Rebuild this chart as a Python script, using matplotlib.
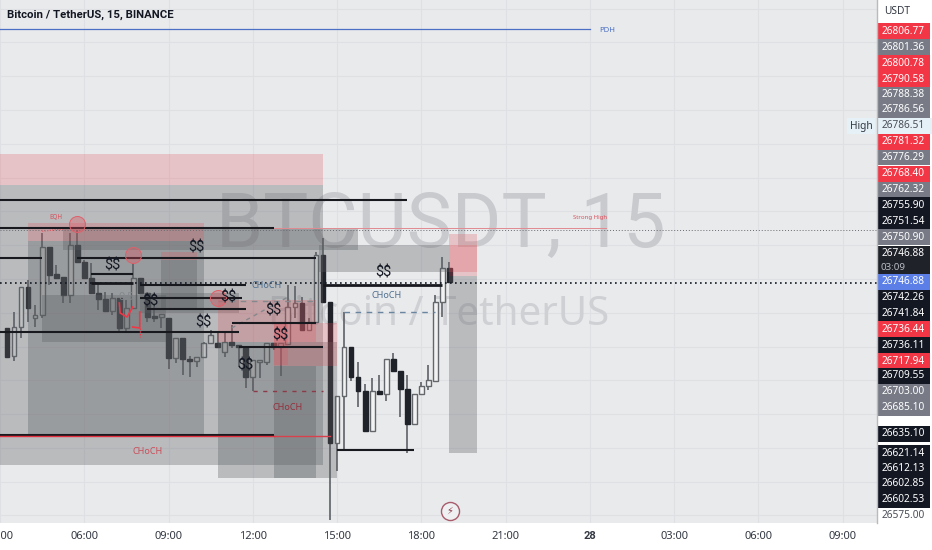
import matplotlib
matplotlib.use('Agg')
from matplotlib import pyplot as plt

plt.rcParams['font.family'] = ['Noto Sans', 'DejaVu Sans']

# 15 minute candles, bar 0 is the 15:00 candle
first_bar = -47
opens = [26713.7, 26693.0, 26714.4, 26744.0, 26721.1, 26723.3, 26773.6, 26753.7, 26751.4, 26738.1, 26775.1, 26762.5,
         26750.7, 26739.6, 26735.2, 26726.3, 26735.9, 26713.7, 26728.5, 26750.7, 26739.6, 26722.6, 26721.8, 26721.1,
         26691.5, 26706.3, 26690.8, 26689.3, 26692.2, 26702.6, 26702.6, 26695.9, 26703.3, 26701.1, 26699.6, 26677.4,
         26688.5, 26688.5, 26702.6, 26699.6, 26701.9, 26729.2, 26732.2, 26712.2, 26718.1, 26767.7, 26732.9, 26628.6,
         26663.4, 26699.6, 26677.4, 26667.1, 26637.5, 26667.1, 26664.9, 26690.8, 26681.9, 26668.6, 26642.7, 26664.9,
         26670.8, 26674.5, 26732.9, 26758.1]
highs = [26713.7, 26725.5, 26744.0, 26749.2, 26730.7, 26784.0, 26773.6, 26760.3, 26751.4, 26784.0, 26786.2, 26764.0,
         26761.8, 26747.7, 26740.3, 26739.6, 26735.9, 26734.4, 26761.8, 26750.7, 26739.6, 26729.2, 26724.1, 26721.1,
         26706.3, 26706.3, 26693.0, 26692.2, 26703.3, 26712.2, 26710.0, 26710.0, 26715.9, 26701.1, 26699.6, 26690.0,
         26690.0, 26702.6, 26702.6, 26702.6, 26745.5, 26744.8, 26736.6, 26721.1, 26769.9, 26780.3, 26732.9, 26663.4,
         26725.5, 26699.6, 26688.5, 26672.3, 26676.7, 26678.9, 26690.8, 26695.2, 26681.9, 26678.9, 26664.9, 26673.7,
         26686.3, 26738.1, 26766.2, 26762.5]
lows = [26692.2, 26689.3, 26706.3, 26718.1, 26714.4, 26721.1, 26745.5, 26750.7, 26732.2, 26732.2, 26762.5, 26750.7,
        26739.6, 26727.0, 26726.3, 26723.3, 26710.7, 26710.7, 26728.5, 26739.6, 26718.1, 26718.1, 26713.7, 26683.4,
        26687.8, 26678.9, 26677.4, 26684.8, 26692.2, 26702.6, 26699.6, 26692.2, 26698.9, 26684.8, 26669.3, 26667.1,
        26676.7, 26686.3, 26697.4, 26678.2, 26701.9, 26721.1, 26712.2, 26712.2, 26718.1, 26732.9, 26571.6, 26607.9,
        26623.4, 26674.5, 26655.2, 26637.5, 26637.5, 26664.9, 26659.7, 26681.9, 26647.8, 26621.2, 26642.7, 26664.9,
        26667.8, 26674.5, 26721.8, 26747.7]
closes = [26692.2, 26714.4, 26744.0, 26728.5, 26723.3, 26773.6, 26752.9, 26750.7, 26738.1, 26775.1, 26762.5, 26750.7,
          26739.6, 26735.2, 26726.3, 26735.9, 26713.7, 26728.5, 26750.7, 26739.6, 26721.8, 26721.1, 26724.1, 26691.5,
          26706.3, 26690.8, 26689.3, 26692.2, 26702.6, 26708.5, 26699.6, 26703.3, 26701.1, 26699.6, 26677.4, 26690.0,
          26690.0, 26702.6, 26699.6, 26702.6, 26729.2, 26732.2, 26712.2, 26718.1, 26767.7, 26732.9, 26628.6, 26663.4,
          26699.6, 26677.4, 26667.1, 26637.5, 26667.1, 26664.9, 26690.8, 26681.9, 26668.6, 26642.7, 26664.9, 26670.8,
          26675.2, 26732.9, 26758.1, 26747.7]

tick_bars = [-48, -36, -24, -12, 0, 12, 24, 36, 48, 60, 72]
tick_labels = ['03:00', '06:00', '09:00', '12:00', '15:00', '18:00', '21:00', '28', '03:00', '06:00', '09:00']

# drawing tools: (bar from, bar to, top price, bottom price)
grey_zones = [(-48, -2, 26819.5, 26612.3), (-44, -19, 26778.1, 26633.0), (-39, 3, 26787.7, 26771.4),
              (-42, -24.3, 26738.1, 26703.3), (-25, -20, 26764.0, 26727.0), (-28, -14, 26739.6, 26724.8),
              (-17, 0, 26703.3, 26602.7), (-9, -3, 26685.6, 26602.7), (-2.5, 16, 26775.1, 26755.1),
              (16, 20, 26752.2, 26621.2)]
pink_zones = [(-48, -2, 26842.5, 26819.5), (-44, -19, 26791.5, 26778.1), (-25, -20, 26769.9, 26764.0),
              (-17, -3, 26734.4, 26703.3), (-9, 0, 26717.4, 26685.6), (-9, -7, 26717.4, 26686.3),
              (16, 20, 26783.3, 26752.2), (16, 20, 26775.1, 26755.1)]
# (bar from, bar to, price, width)
black_lines = [(-48, 10, 26808.4, 1.5), (-48, -9, 26787.7, 1.5), (-48, -42, 26765.5, 1.5), (-37, -3, 26765.5, 1.5),
               (-35, -29, 26753.7, 1.5), (-35, -29, 26747.0, 2), (-28, -13, 26745.5, 1.5), (-28, -13.5, 26735.9, 1.5),
               (-27, -13, 26727.8, 1.5), (-48, -14, 26710.7, 1.5), (-15, -3, 26717.4, 1.5), (-14, -2, 26699.6, 1.5),
               (-48, -9, 26634.6, 1.5), (0, 11, 26623.4, 1.5), (-2, 15, 26745.8, 2)]
dollar_bars = [-20, -32, -26.6, -19, -15.5, -9, -8, -13, 6.6]
dollar_prices = [26773.6, 26759.6, 26733.0, 26718.1, 26735.9, 26726.3, 26708.5, 26686.3, 26755.1]
circle_bars = [-37, -29, -17]
circle_prices = [26790.7, 26767.7, 26735.9]
hand_bars = [-31, -30.9, -29.9, -29.1]
hand_prices = [26732.2, 26724.8, 26721.8, 26729.2]
hook_bars = [-28.1, -28.1, -29.1]
hook_prices = [26725.5, 26713.7, 26714.4]

last_price = 26746.88
high_price = 26786.51

# price scale, the labels are stacked by the chart so their rows are not the price
scale_labels = ['26806.77', '26801.36', '26800.78', '26790.58', '26788.38', '26786.56', '26786.51', '26781.32',
                '26776.29', '26768.40', '26762.32', '26755.90', '26751.54', '26750.90', '26746.88', '26746.88',
                '26742.26', '26741.84', '26736.44', '26736.11', '26717.94', '26709.55', '26703.00', '26685.10',
                '26635.10', '26621.14', '26612.13', '26602.85', '26602.53', '26575.00']
scale_rows = [31, 47, 63, 79, 94.5, 110, 126, 142, 157.5, 174, 190, 205, 221, 237, 253, 282, 298, 313, 329, 345, 361,
              376, 392, 408, 434, 453, 468.5, 484, 500, 515]
R, G, K, D, B = '#f23645', '#787b86', '#131722', '#20222a', '#5b7fe6'
scale_colors = [R, G, R, R, G, G, None, R, G, R, G, K, K, G, D, B, K, K, R, K, R, K, G, G, K, K, K, K, K, None]

fig = plt.figure(figsize=(9.32, 5.5), dpi=100, facecolor='white')
ax = fig.add_axes([0, 27 / 550, 877 / 932, 523 / 550], facecolor='#e9eaec')
ax.set_xlim(-48.0, 76.9)
ax.set_ylim(26569.4, 26956.4)

ax.set_xticks(tick_bars)
ax.set_xticklabels(tick_labels, fontsize=8, color='#333842')
ax.get_xticklabels()[7].set_fontweight('bold')
ax.get_xticklabels()[7].set_family(['Roboto'])
ax.set_yticks([26575 + 25 * i for i in range(16)])
ax.set_yticklabels([])
ax.tick_params(length=0, pad=6)
ax.grid(color='#dfe0e3', lw=0.8)
ax.set_axisbelow(True)
for s in ax.spines.values():
    s.set_visible(False)

# watermark
ax.text(0.503, 0.567, 'BTCUSDT, 15', transform=ax.transAxes, fontsize=54.5, color='#c9cacd', ha='center', va='center',
        zorder=1, family=['Roboto'])
ax.text(0.5, 0.397, 'Bitcoin / TetherUS', transform=ax.transAxes, fontsize=29, color='#cfd0d3', ha='center', va='center', zorder=1)

for i in range(len(opens)):
    bar = first_bar + i
    up = closes[i] >= opens[i]
    ax.vlines(bar, lows[i], highs[i], color='#5d6066', lw=1.2, zorder=2)
    ax.bar(bar, abs(closes[i] - opens[i]), bottom=min(opens[i], closes[i]), width=0.68,
           facecolor='#f2f2f3' if up else '#20222a', edgecolor='#63666b' if up else '#20222a', lw=1, zorder=2.1)

for x0, x1, top, bottom in grey_zones:
    ax.fill_between([x0, x1], bottom, top, fc='#5a5d60', alpha=0.33, ec='none', zorder=3)
for x0, x1, top, bottom in pink_zones:
    ax.fill_between([x0, x1], bottom, top, fc='#e1505a', alpha=0.25, ec='none', zorder=3.1)

# thin level lines
ax.plot([-48, 36], [26935, 26935], color='#4a6fc4', lw=0.9, zorder=4)
ax.axhline(high_price, color='#666a70', lw=0.7, ls=(0, (1, 2)), zorder=4)
ax.plot([-20, 38.3], [26787.7, 26787.7], color='#e08a90', lw=0.7, zorder=4)
ax.plot([-9, -1], [26634.1, 26634.1], color='#d8404e', lw=1, zorder=4)
ax.plot([-48, -9], [26633.6, 26633.6], color='#e2303f', lw=1, zorder=4.2)
ax.axhline(last_price, color='#131722', lw=1.2, ls=(0, (1, 2)), zorder=4)
for x0, x1, price, width in black_lines:
    ax.plot([x0, x1], [price, price], color='#17191f', lw=width, zorder=4.1, solid_capstyle='butt')

ax.plot([1, 14], [26725.5, 26725.5], color='#6a85a0', lw=1, ls=(0, (4, 4)), zorder=4)
ax.plot([-17, -3], [26734.0, 26734.0], color='#85888c', lw=1, ls=(0, (4, 4)), zorder=4)
ax.plot([-15, -7], [26713.7, 26736.6], color='#85888c', lw=1, ls=(0, (3, 3)), zorder=4)
ax.plot([-12, -2], [26667.1, 26667.1], color='#8c3a48', lw=1, ls=(0, (3, 4)), zorder=4)
ax.plot([-42, -39], [26785.3, 26787.0], color='#e0606a', lw=0.9, ls=(0, (1, 1)), zorder=4)

ax.plot(hand_bars, hand_prices, color='#f23645', lw=1.2, zorder=5)
ax.plot(hook_bars, hook_prices, color='#f23645', lw=1.2, zorder=5)
ax.plot([-28.1, -28.1], [26713.7, 26707.0], color='#f23645', lw=1, ls=(0, (1, 1)), zorder=5)

ax.plot(circle_bars, circle_prices, 'o', ms=11.5, mfc='#e5505c55', mec='#e0606a', mew=0.7, zorder=5)
for x, y in zip(dollar_bars, dollar_prices):
    ax.text(x, y, '$$', fontsize=10.5, color='#131722', ha='center', va='center', zorder=6, parse_math=False,
            family=['Roboto'])

ax.text(-27, 26622, 'CHoCH', fontsize=6.5, color='#cc4f5b', ha='center', va='center', zorder=6)
ax.text(-7, 26655.2, 'CHoCH', fontsize=6.5, color='#94303e', ha='center', va='center', zorder=6)
ax.text(7, 26737.4, 'CHoCH', fontsize=6.5, color='#4f6f8f', ha='center', va='center', zorder=6)
ax.text(-10, 26745.5, 'CHoCH', fontsize=6.5, color='#4f6f8f', ha='center', va='center', zorder=6)
ax.text(-30, 26736.6, '0.5', fontsize=8, color='#85888c', ha='center', va='center', zorder=6)
ax.text(-40, 26795.5, 'EQH', fontsize=4.5, color='#d9505c', ha='center', va='center', zorder=6)
ax.text(36.1, 26795.5, 'Strong High', fontsize=4.3, color='#d9505c', ha='center', va='center', zorder=6)
ax.text(38.5, 26934, 'PDH', fontsize=5.5, color='#4a6fc4', ha='center', va='center', zorder=6)

ax.plot([16.1], [26578.3], 'o', ms=13, mfc='#eef0f1', mec='#a85c6c', mew=1, zorder=6)
ax.text(16.1, 26578.3, '\u26a1', fontsize=7, color='#8c3a48', ha='center', va='center', zorder=7, family=['DejaVu Sans'])

ax.text(0.0075, 0.9715, 'Bitcoin / TetherUS, 15, BINANCE', transform=ax.transAxes, fontsize=8.2, fontweight='bold',
        color='#131722', ha='left', va='center', zorder=8, family=['Roboto'])

# price scale column, in pixels
axr = fig.add_axes([877 / 932, 0, 55 / 932, 1])
axr.set_xlim(877, 932)
axr.set_ylim(550, 0)
axr.axis('off')
axr.plot([876.5, 876.5], [0, 523], color='#b8babe', lw=1, clip_on=False)
axr.text(897, 12, 'USDT', fontsize=7.3, color='#333842', ha='center', va='center')

for label, row, color in zip(scale_labels, scale_rows, scale_colors):
    if color is None:
        if row == 126:
            axr.barh(row, 55, left=877, height=15.5, color='#e6f0f7')
        axr.text(903, row, label, fontsize=7.3, color='#4a4e57', ha='center', va='center')
        continue
    height = 28 if label == '26746.88' and color == D else 15.6
    y = row + 6.5 if height == 28 else row
    axr.barh(y, 53, left=877, height=height, color=color)
    axr.text(903, row, label, fontsize=7.3, color='white', ha='center', va='center')
axr.text(893, 267, '03:09', fontsize=7, color='#b9bcc4', ha='center', va='center')

# the "High" tag sits on the chart side of the scale
ax.text(861 / 877, 1 - 126 / 523, 'High', transform=ax.transAxes, fontsize=7.3, color='#333842', ha='center', va='center',
        zorder=8, bbox=dict(boxstyle='square,pad=0.25', fc='#e6f0f7', ec='none'))

fig.savefig('out.png', dpi=100)
